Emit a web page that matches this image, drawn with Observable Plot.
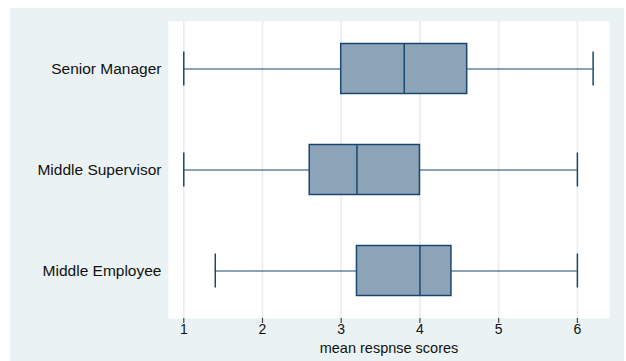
<!DOCTYPE html>
<html>
<head>
<meta charset="utf-8">
<script src="https://cdn.jsdelivr.net/npm/d3@7"></script>
<script src="https://cdn.jsdelivr.net/npm/@observablehq/plot@0.6"></script>
<style>
  html, body { margin: 0; padding: 0; background: #ffffff; }
  #wrap { position: relative; width: 626px; height: 361px; overflow: hidden; }
  #bg { position: absolute; left: 10px; top: 8px; width: 614px; height: 353px; background: #eaf2f3; }
  #chart { position: absolute; left: 0; top: 0; }
  #chart svg { background: transparent !important; }
</style>
</head>
<body>
<div id="wrap"><div id="bg"></div><div id="chart"></div></div>
<script>
const categories = ["Senior Manager", "Middle Supervisor", "Middle Employee"];
const lowerWhisker = [1.0, 1.0, 1.4];
const q1 = [3.0, 2.6, 3.2];
const median = [3.8, 3.2, 4.0];
const q3 = [4.6, 4.0, 4.4];
const upperWhisker = [6.2, 6.0, 6.0];
const xTicks = [1, 2, 3, 4, 5, 6];
const xLabel = "mean respnse scores";

const data = categories.map((c, i) => ({
  cat: c, lo: lowerWhisker[i], q1: q1[i], med: median[i], q3: q3[i], hi: upperWhisker[i]
}));

const navy = "#1a476f";
const fillC = "#8da3b8";
const font = "'Liberation Sans', Arial, Helvetica, sans-serif";

const chart = Plot.plot({
  width: 626,
  height: 361,
  marginLeft: 168,
  marginRight: 17,
  marginTop: 21,
  marginBottom: 43,
  style: { background: "transparent", fontFamily: font, fontSize: "15.5px", color: "#111" },
  x: { domain: [0.806, 6.408], ticks: xTicks },
  y: { domain: categories, range: [18, 321], padding: 0 },
  marks: [
    Plot.frame({ fill: "white", stroke: "none" }),
    Plot.gridX(xTicks, { stroke: "#e6eef1", strokeOpacity: 1, strokeWidth: 1.6 }),
    Plot.ruleY(data, { y: "cat", x1: "lo", x2: "q1", stroke: navy, strokeWidth: 1.2 }),
    Plot.ruleY(data, { y: "cat", x1: "q3", x2: "hi", stroke: navy, strokeWidth: 1.2 }),
    Plot.tickX(data, { x: "lo", y: "cat", insetTop: 33.5, insetBottom: 33.5, stroke: navy, strokeWidth: 1.5 }),
    Plot.tickX(data, { x: "hi", y: "cat", insetTop: 33.5, insetBottom: 33.5, stroke: navy, strokeWidth: 1.5 }),
    Plot.barX(data, { x1: "q1", x2: "q3", y: "cat", insetTop: 25.5, insetBottom: 25.5, fill: fillC, stroke: navy, strokeWidth: 1.5 }),
    Plot.tickX(data, { x: "med", y: "cat", insetTop: 25.5, insetBottom: 25.5, stroke: navy, strokeWidth: 1.5 }),
    Plot.axisY({ tickSize: 0, tickPadding: 7, label: null, fontSize: 15.5, line: true, stroke: "#666", strokeWidth: 1.5 }),
    Plot.axisX(xTicks, { tickSize: 5, tickPadding: 1, fontSize: 14, line: true, stroke: "#444", strokeWidth: 1.2, label: null }),
    Plot.axisX([], { tickSize: 0, fontSize: 14.5, label: xLabel, labelAnchor: "center", labelArrow: "none", labelOffset: 34 })
  ]
});
document.getElementById("chart").appendChild(chart);
</script>
</body>
</html>
